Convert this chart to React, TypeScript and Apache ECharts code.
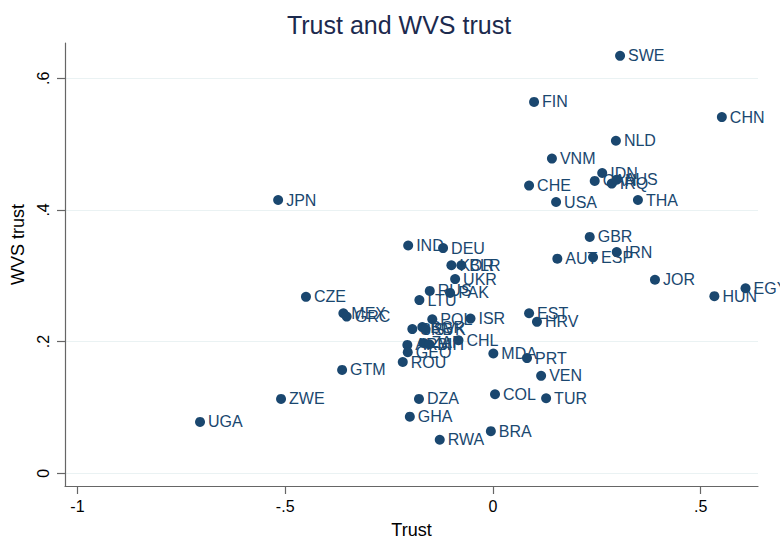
import React, { useEffect, useRef } from "react";
import * as echarts from "echarts";

const countries = [
  "SWE", "FIN", "CHN", "NLD", "VNM", "IDN", "CAN", "IRQ", "AUS", "CHE",
  "USA", "THA", "JPN", "GBR", "IRN", "AUT", "ESP", "JOR", "HUN", "EGY",
  "IND", "DEU", "KOR", "BLR", "UKR", "RUS", "PAK", "LTU", "POL", "ISR",
  "CZE", "MEX", "GRC", "EST", "HRV", "SRB", "BGR", "SVK", "ARM", "ZAF",
  "BIH", "GEO", "CHL", "MDA", "PRT", "VEN", "COL", "TUR", "BRA", "RWA",
  "DZA", "GHA", "ROU", "GTM", "ZWE", "UGA",
];
const trust = [
  0.306, 0.099, 0.551, 0.296, 0.142, 0.263, 0.245, 0.286, 0.298, 0.087,
  0.152, 0.349, -0.517, 0.233, 0.298, 0.155, 0.241, 0.39, 0.533, 0.608,
  -0.204, -0.12, -0.1, -0.076, -0.091, -0.152, -0.103, -0.177, -0.146, -0.054,
  -0.45, -0.36, -0.352, 0.087, 0.106, -0.194, -0.17, -0.162, -0.206, -0.167,
  -0.153, -0.205, -0.083, 0.001, 0.082, 0.116, 0.005, 0.128, -0.005, -0.128,
  -0.178, -0.2, -0.217, -0.363, -0.51, -0.705,
];
const wvsTrust = [
  0.634, 0.564, 0.541, 0.505, 0.478, 0.456, 0.444, 0.44, 0.446, 0.437,
  0.412, 0.415, 0.415, 0.359, 0.336, 0.326, 0.328, 0.294, 0.269, 0.281,
  0.346, 0.342, 0.316, 0.316, 0.295, 0.277, 0.274, 0.263, 0.234, 0.235,
  0.268, 0.243, 0.238, 0.243, 0.23, 0.219, 0.222, 0.219, 0.195, 0.198,
  0.196, 0.184, 0.202, 0.182, 0.175, 0.148, 0.12, 0.114, 0.064, 0.051,
  0.113, 0.086, 0.169, 0.157, 0.113, 0.078,
];
const xTicks = [-1, -0.5, 0, 0.5];
const yTicks = [0, 0.2, 0.4, 0.6];

const fmt = (v: number) => {
  if (v === 0) return "0";
  const s = String(v);
  return s.replace(/^(-?)0\./, "$1.");
};

const NAVY = "#1a476f";
const FONT = "'Liberation Sans', Arial, Helvetica, sans-serif";

export default function App() {
  const ref = useRef<HTMLDivElement>(null);
  useEffect(() => {
    if (!ref.current) return;
    const chart = echarts.init(ref.current, undefined, { renderer: "svg" });
    const data = countries.map((c, i) => ({ name: c, value: [trust[i], wvsTrust[i]] }));
    chart.setOption({
      animation: false,
      backgroundColor: "#ffffff",
      textStyle: { fontFamily: FONT },
      title: {
        text: "Trust and WVS trust",
        left: 394,
        top: 7,
        textAlign: "center",
        textStyle: { fontFamily: FONT, fontSize: 25, fontWeight: "normal", color: "#1c2a4e" },
      },
      grid: { left: 65, right: 22, top: 43, bottom: 54, outerBoundsMode: "none", containLabel: false },
      xAxis: {
        type: "value",
        min: -1.03,
        max: 0.638,
        name: "Trust",
        nameLocation: "middle",
        nameGap: 35,
        nameTextStyle: { fontFamily: FONT, fontSize: 18, color: "#000" },
        axisLine: { show: true, onZero: false, lineStyle: { color: "#666", width: 1.2 } },
        axisTick: { show: true, length: 8, customValues: xTicks, lineStyle: { color: "#666", width: 1.2 } },
        axisLabel: { customValues: xTicks, formatter: (v: number) => fmt(v), fontSize: 16, color: "#000", margin: 12, fontFamily: FONT },
        splitLine: { show: false },
      },
      yAxis: {
        type: "value",
        min: -0.0193,
        max: 0.6535,
        name: "WVS trust",
        nameLocation: "middle",
        nameRotate: 90,
        nameGap: 38,
        nameTextStyle: { fontFamily: FONT, fontSize: 18, color: "#000", padding: [0, 0, 0, 40] },
        axisLine: { show: true, onZero: false, lineStyle: { color: "#666", width: 1.2 } },
        axisTick: { show: true, length: 8, customValues: yTicks, lineStyle: { color: "#666", width: 1.2 } },
        axisLabel: { customValues: yTicks, rotate: 90, formatter: (v: number) => fmt(v), fontSize: 16, color: "#000", margin: 14, fontFamily: FONT },
        splitLine: { show: true, lineStyle: { color: "#eaf2f3", width: 1.2 } },
      },
      series: [
        {
          type: "scatter",
          data,
          symbol: "circle",
          symbolSize: 10,
          itemStyle: { color: NAVY, opacity: 1 },
          label: {
            show: true,
            position: "right",
            distance: 3,
            formatter: "{b}",
            color: NAVY,
            fontSize: 16,
            fontFamily: FONT,
          },
        },
      ],
    });
    return () => chart.dispose();
  }, []);
  return <div ref={ref} style={{ position: "fixed", left: 0, top: 0, width: 780, height: 540 }} />;
}
